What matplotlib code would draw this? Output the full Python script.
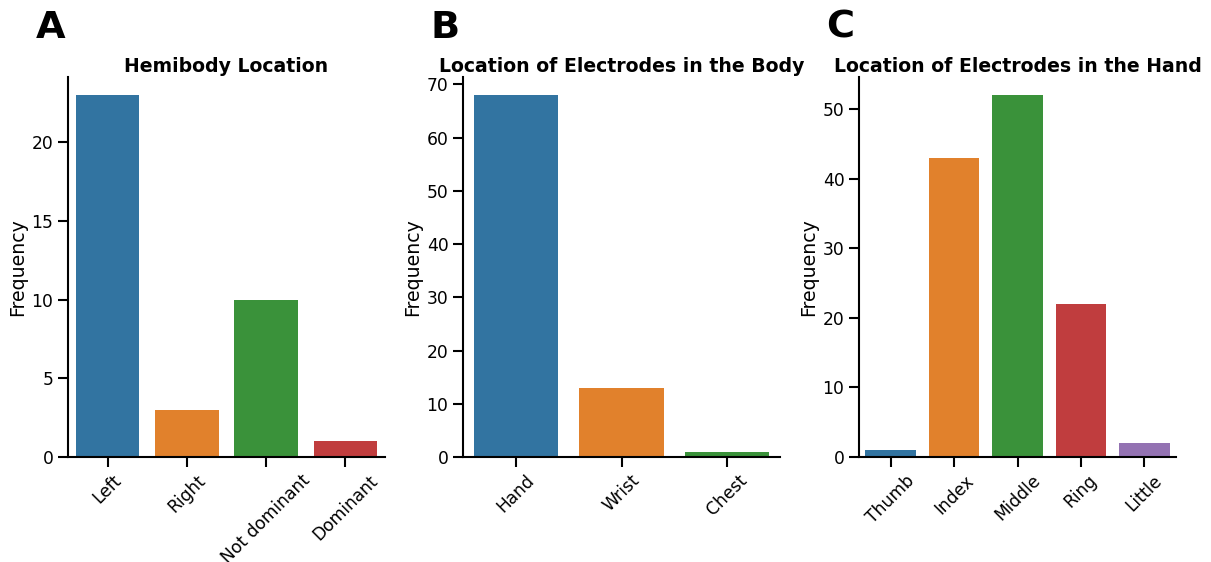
import matplotlib
matplotlib.use("Agg")
import matplotlib.pyplot as plt

# Data
hemi_labels = ["Left", "Right", "Not dominant", "Dominant"]
hemi_values = [23, 3, 10, 1]
body_labels = ["Hand", "Wrist", "Chest"]
body_values = [68, 13, 1]
hand_labels = ["Thumb", "Index", "Middle", "Ring", "Little"]
hand_values = [1, 43, 52, 22, 2]

titles = ["Hemibody Location", "Location of Electrodes in the Body",
          "Location of Electrodes in the Hand"]
panel_letters = ["A", "B", "C"]
palette = ["#3274a1", "#e1812c", "#3a923a", "#c03d3e", "#9372b2"]

plt.rcParams['font.family'] = ['DejaVu Sans']

fig = plt.figure(figsize=(12.11, 5.62), dpi=100)
lefts = [68 / 1211, 463 / 1211, 859 / 1211]
width = 317 / 1211
bottom = 1 - 457 / 562
height = (457 - 77) / 562
letter_x = [36 / 1211, 431 / 1211, 826 / 1211]

datasets = [(hemi_labels, hemi_values), (body_labels, body_values),
            (hand_labels, hand_values)]

for i, (labels, values) in enumerate(datasets):
    ax = fig.add_axes([lefts[i], bottom, width, height])
    x = range(len(labels))
    ax.bar(x, values, width=0.8, color=palette[:len(labels)])
    ax.set_xlim(-0.5, len(labels) - 0.5)
    ax.set_xticks(list(x))
    ax.set_xticklabels(labels, rotation=45, ha='center', fontsize=12.3)
    ax.tick_params(axis='both', length=7, width=1.5, labelsize=12.3, pad=3.5)
    ax.set_ylabel("Frequency", fontsize=13.6, labelpad=3)
    ax.set_title(titles[i], fontsize=13.6, fontweight='bold', pad=3.5)
    for s in ['top', 'right']:
        ax.spines[s].set_visible(False)
    for s in ['left', 'bottom']:
        ax.spines[s].set_linewidth(1.5)
    fig.text(letter_x[i], 1 - 10 / 562, panel_letters[i], fontsize=27.5,
             fontweight='bold', ha='left', va='top')

fig.savefig("out.png", dpi=100)
